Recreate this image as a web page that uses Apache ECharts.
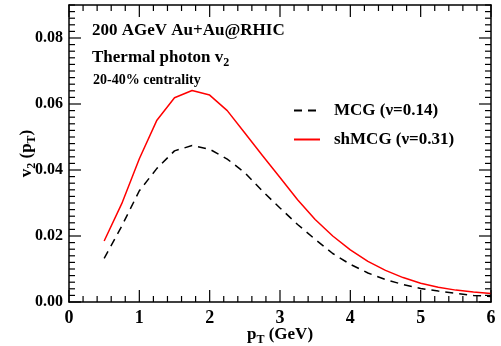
<!DOCTYPE html>
<html><head><meta charset="utf-8">
<script src="https://cdn.jsdelivr.net/npm/echarts@6/dist/echarts.min.js"></script>
<style>html,body{margin:0;padding:0;background:#fff}#c{width:501px;height:346px}</style>
</head><body><div id="c"></div>
<script>
const pT = [0.5,0.75,1.0,1.25,1.5,1.75,2.0,2.25,2.5,2.75,3.0,3.25,3.5,3.75,4.0,4.25,4.5,4.75,5.0,5.25,5.5,5.75,6.0];
const mcg = [0.0132,0.0230,0.0337,0.0405,0.0458,0.0474,0.0463,0.0433,0.0392,0.0336,0.0285,0.0235,0.0190,0.0147,0.0114,0.0088,0.0068,0.0053,0.0041,0.0033,0.0026,0.0020,0.0017];
const shmcg = [0.0185,0.0298,0.0434,0.0551,0.0619,0.0641,0.0627,0.0580,0.0512,0.0444,0.0377,0.0310,0.0250,0.0200,0.0158,0.0123,0.0096,0.0074,0.0057,0.0045,0.0036,0.0030,0.0026];
const seriesNames = ['MCG (\u03bd=0.14)','shMCG (\u03bd=0.31)'];
const xTicks = [0,1,2,3,4,5,6];
const yTicks = [0,0.02,0.04,0.06,0.08];
const X_MIN = 0, X_MAX = 6, Y_MIN = 0, Y_MAX = 0.09;
const X_MINOR_STEP = 0.2, Y_MINOR_STEP = 0.002;

// tick-mark list: [axis (0 = x, 1 = y), value, length]
const tickMarks = [];
for (let i = 0; i * X_MINOR_STEP <= X_MAX + 1e-9; i++) {
  const v = +(i * X_MINOR_STEP).toFixed(4);
  tickMarks.push([0, v, xTicks.some(t => Math.abs(t - v) < 1e-9) ? 12 : 6]);
}
for (let i = 0; i * Y_MINOR_STEP <= Y_MAX + 1e-9; i++) {
  const v = +(i * Y_MINOR_STEP).toFixed(5);
  tickMarks.push([1, v, yTicks.some(t => Math.abs(t - v) < 1e-9) ? 12 : 6]);
}

const FONT = '"Liberation Serif","Times New Roman",serif';
const ch = echarts.init(document.getElementById('c'));
const txt = {fontFamily:FONT,fontWeight:'bold',color:'#000'};
const sub = Object.assign({fontSize:12,padding:[10,0,0,0]},txt);
const axLine = (idx)=>({show:true,onZeroAxisIndex:idx,lineStyle:{color:'#000',width:1.5}});

function renderTick(params, api) {
  const a = api.value(0), v = api.value(1), len = api.value(2);
  const st = {stroke:'#000', lineWidth:1.2};
  if (a === 0) {
    const p0 = api.coord([v, Y_MIN]), p1 = api.coord([v, Y_MAX]);
    return {type:'group', children:[
      {type:'line', shape:{x1:p0[0], y1:p0[1], x2:p0[0], y2:p0[1]-len}, style:st},
      {type:'line', shape:{x1:p1[0], y1:p1[1], x2:p1[0], y2:p1[1]+len}, style:st}
    ]};
  }
  const p0 = api.coord([X_MIN, v]), p1 = api.coord([X_MAX, v]);
  return {type:'group', children:[
    {type:'line', shape:{x1:p0[0], y1:p0[1], x2:p0[0]+len, y2:p0[1]}, style:st},
    {type:'line', shape:{x1:p1[0], y1:p1[1], x2:p1[0]-len, y2:p1[1]}, style:st}
  ]};
}

ch.setOption({
  animation:false,
  grid:{left:69,right:10,top:5,bottom:44,outerBoundsMode:'none'},
  title:[
    {left:92,top:22,padding:0,text:'200 AGeV Au+Au@RHIC',textStyle:Object.assign({fontSize:17},txt)},
    {left:92,top:47,padding:0,text:'Thermal photon v{s|2}',textStyle:Object.assign({fontSize:17,rich:{s:sub}},txt)},
    {left:93,top:73,padding:0,text:'20-40% centrality',textStyle:Object.assign({fontSize:14},txt)}
  ],
  legend:{
    orient:'vertical',left:293,top:102,padding:0,itemWidth:26,itemHeight:14,itemGap:12,
    itemStyle:{opacity:0},
    textStyle:Object.assign({fontSize:17,padding:[0,0,0,9]},txt),
    data:seriesNames
  },
  xAxis:[
    {type:'value',min:X_MIN,max:X_MAX,interval:1,position:'bottom',
      axisLine:axLine(0),splitLine:{show:false},axisTick:{show:false},
      axisLabel:Object.assign({fontSize:18,margin:7,formatter:v=>xTicks.includes(v)?String(v):''},txt),
      name:'p{s|T} (GeV)',nameLocation:'middle',nameGap:22,nameMoveOverlap:false,
      nameTextStyle:Object.assign({fontSize:17,rich:{s:sub}},txt)},
    {type:'value',min:X_MIN,max:X_MAX,interval:1,position:'top',
      axisLine:axLine(2),splitLine:{show:false},axisTick:{show:false},axisLabel:{show:false}},
    {type:'value',min:-X_MAX,max:0,show:false}
  ],
  yAxis:[
    {type:'value',min:Y_MIN,max:Y_MAX,interval:0.02,position:'left',
      axisLine:axLine(0),splitLine:{show:false},axisTick:{show:false},
      axisLabel:Object.assign({fontSize:16,margin:6,formatter:v=>{const t=yTicks.find(y=>Math.abs(y-v)<1e-9);return t===undefined?'':t.toFixed(2);}},txt),
      name:'v{s|2} (p{s|T})',nameLocation:'middle',nameGap:31,nameRotate:90,nameMoveOverlap:false,
      nameTextStyle:Object.assign({fontSize:17,rich:{s:sub}},txt)},
    {type:'value',min:Y_MIN,max:Y_MAX,interval:0.02,position:'right',
      axisLine:axLine(2),splitLine:{show:false},axisTick:{show:false},axisLabel:{show:false}},
    {type:'value',min:-Y_MAX,max:0,show:false}
  ],
  series:[
    {name:'ticks',type:'custom',xAxisIndex:0,yAxisIndex:0,clip:false,silent:true,z:5,
      renderItem:renderTick,data:tickMarks},
    {name:seriesNames[0],type:'line',xAxisIndex:0,yAxisIndex:0,symbol:'none',
      data:pT.map((x,i)=>[x,mcg[i]]),lineStyle:{color:'#000',width:1.5,type:[8,6]},itemStyle:{color:'#000'}},
    {name:seriesNames[1],type:'line',xAxisIndex:0,yAxisIndex:0,symbol:'none',
      data:pT.map((x,i)=>[x,shmcg[i]]),lineStyle:{color:'#ff0000',width:1.5},itemStyle:{color:'#ff0000'}}
  ]
});
</script></body></html>
